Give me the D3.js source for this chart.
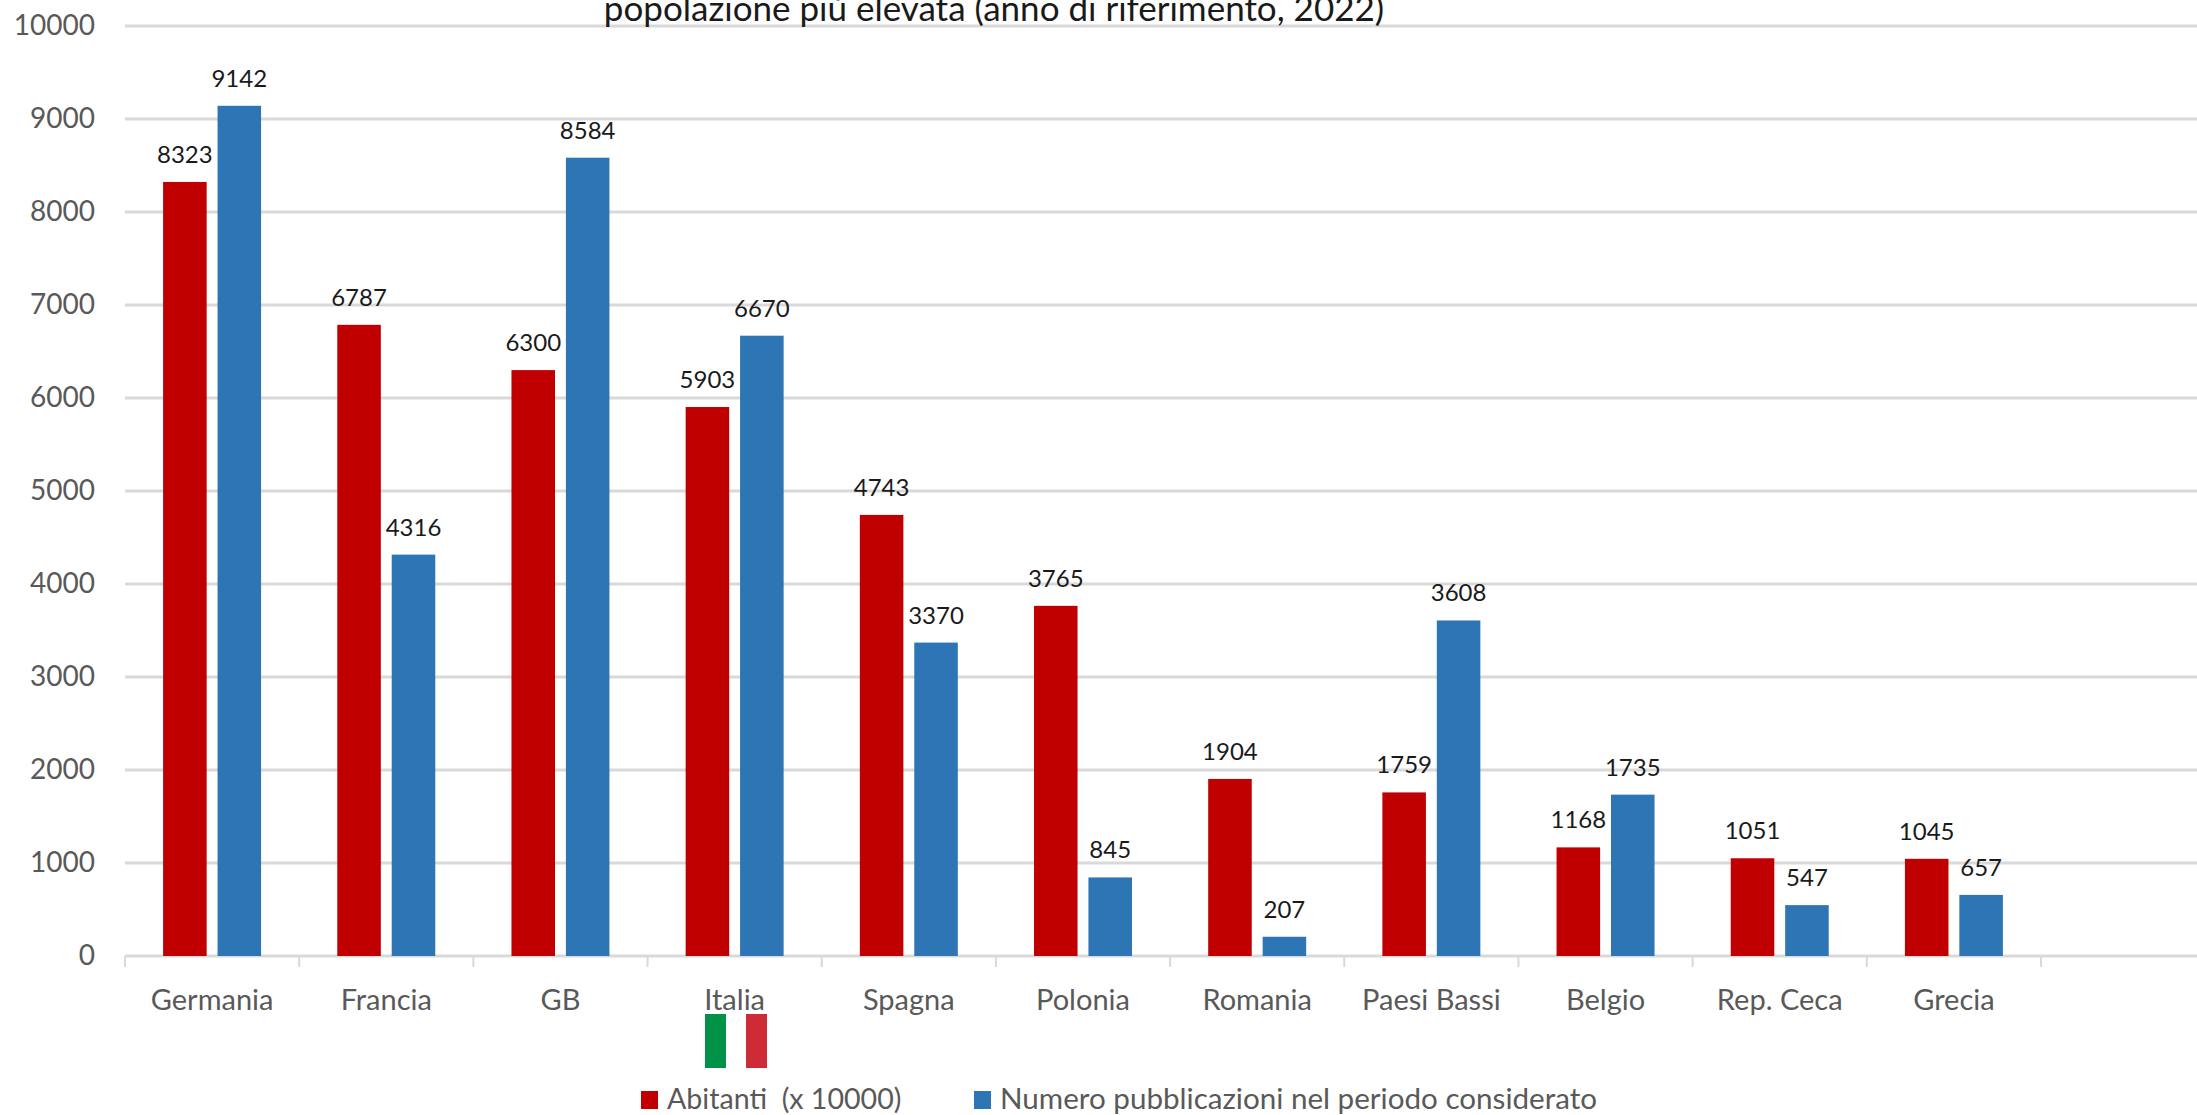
<!DOCTYPE html>
<html><head><meta charset="utf-8">
<script src="https://cdn.jsdelivr.net/npm/d3@7"></script>
<style>
html,body{margin:0;padding:0;background:#fff;overflow:hidden}
svg{display:block;font-family:Lato,"Open Sans",sans-serif}
.axis path{display:none}
.axis text{fill:#595959}
</style></head><body>
<svg id="c" width="2197" height="1115"></svg>
<script>
const categories=["Germania","Francia","GB","Italia","Spagna","Polonia","Romania","Paesi Bassi","Belgio","Rep. Ceca","Grecia"];
const abitanti=[8323,6787,6300,5903,4743,3765,1904,1759,1168,1051,1045];
const pubblicazioni=[9142,4316,8584,6670,3370,845,207,3608,1735,547,657];
const seriesNames=["Abitanti  (x 10000)","Numero pubblicazioni nel periodo considerato"];
const seriesColors=["#c00000","#2e75b6"];
const yTicks=[0,1000,2000,3000,4000,5000,6000,7000,8000,9000,10000];
const titleText="popolazione più elevata (anno di riferimento, 2022)";

const svg=d3.select("#c");
const y=d3.scaleLinear().domain([0,10000]).range([956,26]);
const x0=d3.scaleBand().domain(categories).range([125,2041]);
const x1=d3.scaleBand().domain([0,1]).range([0,x0.bandwidth()]).paddingInner(0.2).paddingOuter(0.7);

// gridlines
svg.append("g").selectAll("line").data(yTicks).join("line")
  .attr("x1",125).attr("x2",2197).attr("y1",d=>y(d)).attr("y2",d=>y(d))
  .attr("stroke","#d9d9d9").attr("stroke-width",3);

// category boundary ticks
svg.append("g").selectAll("line").data(categories.map(c=>x0(c)).concat([x0.range()[1]])).join("line")
  .attr("x1",d=>d).attr("x2",d=>d).attr("y1",956).attr("y2",967)
  .attr("stroke","#d9d9d9").attr("stroke-width",2);

// axes
const yAxis=svg.append("g").attr("class","axis").attr("transform","translate(95,0)")
  .call(d3.axisLeft(y).tickValues(yTicks).tickSize(0).tickPadding(0).tickFormat(d3.format("d")))
  .attr("font-family",null);
yAxis.selectAll("text").attr("font-size",28);
const xAxis=svg.append("g").attr("class","axis").attr("transform","translate(0,956)")
  .call(d3.axisBottom(x0).tickSize(0).tickPadding(0))
  .attr("font-family",null);
xAxis.selectAll("text").attr("font-size",29).attr("y",0).attr("dy",0)
  .attr("transform","translate(0,54)");

// bars and labels
[abitanti,pubblicazioni].forEach((vals,s)=>{
  const g=svg.append("g");
  g.selectAll("rect").data(vals).join("rect")
    .attr("x",(d,i)=>x0(categories[i])+x1(s)).attr("width",x1.bandwidth())
    .attr("y",d=>y(d)).attr("height",d=>y(0)-y(d)).attr("fill",seriesColors[s]);
  g.selectAll("text").data(vals).join("text")
    .attr("x",(d,i)=>x0(categories[i])+x1(s)+x1.bandwidth()/2)
    .attr("y",d=>y(d)-19).attr("text-anchor","middle")
    .attr("font-size",24).attr("fill","#1a1a1a").text(d=>d);
});

// title (cut off by the top edge in the reference)
svg.append("text").attr("x",994).attr("y",21).attr("text-anchor","middle")
  .attr("font-size",35).attr("fill","#1a1a1a").text(titleText);

// Italian flag under "Italia"
svg.append("rect").attr("x",705).attr("y",1014).attr("width",21).attr("height",54).attr("fill","#009246");
svg.append("rect").attr("x",746).attr("y",1014).attr("width",21).attr("height",54).attr("fill","#ce2b37");

// legend
const legendX=[641,974];
const legendFont=[28.6,29.6];
const lg=svg.append("g").selectAll("g").data(seriesNames).join("g")
  .attr("transform",(d,i)=>`translate(${legendX[i]},1091)`);
lg.append("rect").attr("width",17).attr("height",18).attr("fill",(d,i)=>seriesColors[i]);
lg.append("text").attr("x",26).attr("y",18).attr("font-size",(d,i)=>legendFont[i]).attr("fill","#595959")
  .attr("xml:space","preserve").style("white-space","pre").text(d=>d);
</script>
</body></html>
